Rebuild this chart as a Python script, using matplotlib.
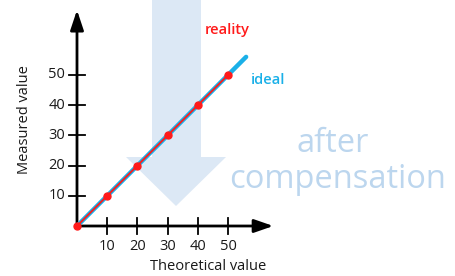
import matplotlib
matplotlib.use("Agg")
import matplotlib.pyplot as plt
from matplotlib.patches import Polygon

plt.rcParams['font.family'] = ['Open Sans', 'DejaVu Sans']

# data
theoretical = [0, 10, 20, 30, 40, 50]
measured = [0, 10, 20, 30, 40, 50]
ideal_x = [0, 56]
ideal_y = [0, 56]
ticks = [10, 20, 30, 40, 50]

RED = '#ff1a1a'
BLUE = '#1ab0e8'
PALE = '#dce8f5'
PALE_TXT = '#bcd6ee'

fig = plt.figure(figsize=(4.56, 2.76), dpi=100)
ax = fig.add_axes([0, 0, 1, 1])
# 1 unit = 3.02 px, origin at pixel (77, 226)
s = 3.02
ax.set_xlim(-77 / s, (456 - 77) / s)
ax.set_ylim(-(276 - 226) / s, 226 / s)
ax.set_axis_off()

def px(x, y):
    return ((x - 77) / s, (226 - y) / s)

# big pale arrow behind everything
arrow_px = [(152, 0), (201, 0), (201, 157), (226, 157), (176, 206), (126, 157), (152, 157)]
ax.add_patch(Polygon([px(*p) for p in arrow_px], closed=True, fc=PALE, ec='none', zorder=0))

ax.text(*px(333, 143), 'after', color=PALE_TXT, fontsize=23.5, ha='center', va='center', zorder=1)
ax.text(*px(338, 180), 'compensation', color=PALE_TXT, fontsize=23.5, ha='center', va='center', zorder=1)

# axes with arrow heads
ax.annotate('', xy=(65, 0), xytext=(0, 0),
            arrowprops=dict(arrowstyle='-|>,head_length=0.72,head_width=0.25', lw=2, color='black',
                            shrinkA=0, shrinkB=0, mutation_scale=16), zorder=3)
ax.annotate('', xy=(0, 71.5), xytext=(0, 0),
            arrowprops=dict(arrowstyle='-|>,head_length=0.75,head_width=0.25', lw=2, color='black',
                            shrinkA=0, shrinkB=0, mutation_scale=16), zorder=3)

tl = 8 / s
for t in ticks:
    ax.plot([t, t], [-tl, tl], color='black', lw=1.3, zorder=3)
    ax.plot([-tl, tl], [t, t], color='black', lw=1.3, zorder=3)
    ax.text(t, -20 / s, str(t), ha='center', va='center', fontsize=10.5, color='#1a1a1a')
    ax.text(-12 / s, t, str(t), ha='right', va='center', fontsize=10.5, color='#1a1a1a')

ax.text(*px(208, 267), 'Theoretical value', ha='center', va='center', fontsize=10.5, color='#1a1a1a')
ax.text(*px(25, 120), 'Measured value', ha='center', va='center', rotation=90, fontsize=10.5,
        color='#1a1a1a')

# lines
ax.plot(ideal_x, ideal_y, color=BLUE, lw=3.2, solid_capstyle='round', zorder=4)
ax.plot(theoretical, measured, color=RED, lw=1.3, zorder=5)
ax.plot(theoretical, measured, 'o', color=RED, ms=5, zorder=6)

ax.text(*px(205, 30), 'reality', color=RED, fontsize=10.5, fontweight='semibold', ha='left', va='center')
ax.text(*px(251, 80), 'ideal', color=BLUE, fontsize=10.5, fontweight='semibold', ha='left', va='center')

fig.savefig('out.png', dpi=100)
